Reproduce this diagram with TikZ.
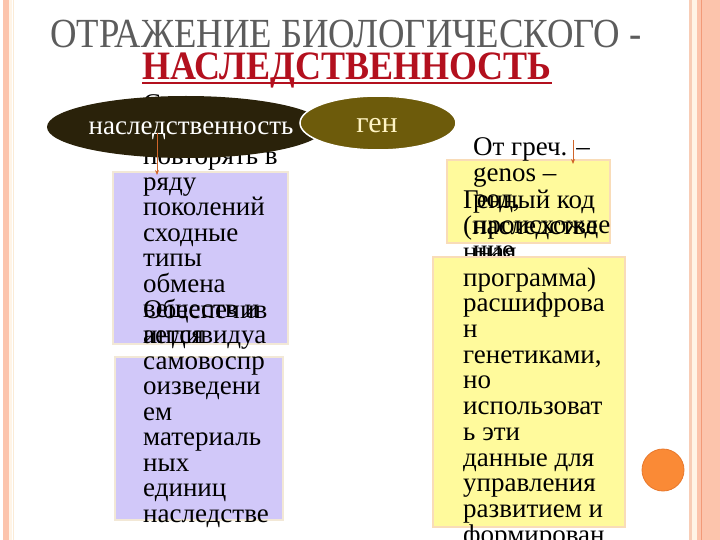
\documentclass[tikz,border=0pt]{standalone}
\usepackage{fontspec}
\setmainfont{Liberation Serif}
\usetikzlibrary{arrows.meta,shapes.geometric}
\definecolor{bordersalmon}{HTML}{FCC4AC}
\definecolor{borderlight}{HTML}{F8CDB6}
\definecolor{borderline}{HTML}{F29A78}
\definecolor{bordercream}{HTML}{FFF4E6}
\definecolor{borderthin}{HTML}{FBEBD6}
\definecolor{titlegray}{HTML}{5C5C5C}
\definecolor{titlered}{HTML}{B3101E}
\definecolor{darkell}{HTML}{2A220A}
\definecolor{oliveell}{HTML}{6D5B0B}
\definecolor{gencream}{HTML}{FFF4C4}
\definecolor{lav}{HTML}{D1C8F9}
\definecolor{lavedge}{HTML}{F2E8D6}
\definecolor{yel}{HTML}{FFFA9C}
\definecolor{yeledge}{HTML}{F9DCB8}
\definecolor{arrowc}{HTML}{D0652A}
\definecolor{dotc}{HTML}{FA8A36}
\definecolor{dotedge}{HTML}{E8782C}
\newcommand\stacklines[1]{\parbox[t]{240pt}{\raggedright\lineskiplimit=-100pt\relax\lineskip=0pt\relax #1}}
\begin{document}
\begin{tikzpicture}[x=1pt,y=-1pt,
  lefttext/.style={anchor=base west, inner sep=0pt, font=\fontsize{27}{25.5}\selectfont},
  righttext/.style={anchor=base west, inner sep=0pt, font=\fontsize{27}{25.7}\selectfont},
  lavpanel/.style={fill=lav, draw=lavedge, line width=1.5pt},
  yelpanel/.style={fill=yel, draw=yeledge, line width=1.5pt},
  pointer/.style={draw=arrowc, line width=0.9pt, -{Stealth[length=5pt,width=4pt]}}]
\useasboundingbox (0,0) rectangle (720,540);
\fill[white] (0,0) rectangle (720,540);
% borders
\fill[bordersalmon] (3,0) rectangle (8.5,540);
\fill[bordercream] (8.5,0) rectangle (12,540);
\draw[borderthin, line width=0.8pt] (13.5,0) -- (13.5,540);
\fill[borderlight] (689,0) rectangle (692,540);
\fill[bordercream] (692,0) rectangle (697,540);
\fill[bordersalmon] (697,0) rectangle (720,540);
\draw[borderline, line width=1.2pt] (701.5,0) -- (701.5,540);
% title
\node[anchor=base, inner sep=0pt, font=\fontsize{36}{40}\selectfont, text=titlegray] (t1) at (346,48) {\scalebox{1.02}[1.15]{ОТРАЖЕНИЕ БИОЛОГИЧЕСКОГО -}};
\node[anchor=base, inner sep=0pt, font=\fontsize{36}{40}\selectfont\bfseries, text=titlered] (t2) at (347,80) {\scalebox{1}[1.12]{НАСЛЕДСТВЕННОСТЬ}};
\draw[titlered, line width=2.5pt] ([yshift=-3pt]t2.base west) -- ([yshift=-3pt]t2.base east);
% left column
\fill[lavpanel] (113,172) rectangle (288,344);
\begin{scope}
\clip (138,85) rectangle (158,130);
\node[lefttext] (l0) at (143,113) {Свойство};
\end{scope}
\node[lefttext] (l1) at (143,139.5) {\stacklines{организмов\\повторять в\\ряду\\поколений\\сходные\\типы\\обмена\\веществ и\\индивидуа}};
\fill[lavpanel] (115,357) rectangle (283,520);
\node[lefttext] (l2) at (143,318) {\stacklines{Обеспечив\\ается\\самовоспр\\оизведени\\ем\\материаль\\ных\\единиц\\наследстве}};
% ellipses
\node[ellipse, fill=darkell, minimum width=278pt, minimum height=62pt, inner sep=0pt] (e1) at (186,127) {};
\node[anchor=base, inner sep=0pt, text=white, font=\fontsize{27}{30}\selectfont] (e1t) at (191,135) {наследственность};
\node[ellipse, fill=oliveell, draw=white, line width=1.5pt, minimum width=156pt, minimum height=54pt, inner sep=0pt] (e2) at (378,123) {};
\node[anchor=base, inner sep=0pt, text=gencream, font=\fontsize{30}{33}\selectfont] (e2t) at (377,133) {ген};
% right column
\fill[yelpanel] (447,160) rectangle (610,243);
\node[righttext] (ra) at (473,156) {\stacklines{От греч. –\\genos –\\род,\\происхожде\\ние}};
\node[righttext] (rb1) at (463,209) {\stacklines{Генный код\\(наследстве\\нная}};
\fill[yelpanel] (433,257) rectangle (625,527);
\node[righttext] (rb2) at (463,286.1) {\stacklines{программа)\\расшифрова\\н\\генетиками,\\но\\использоват\\ь эти\\данные для\\управления\\развитием и\\формирован}};
% pointers
\coordinate (p1s) at (157,133);
\coordinate (p1e) at (157,175);
\coordinate (p2s) at (573,140);
\coordinate (p2e) at (573,164);
\draw[pointer] (p1s) -- (p1e);
\draw[pointer] (p2s) -- (p2e);
% dot
\node[circle, fill=dotc, draw=dotedge, line width=0.8pt, minimum size=42pt, inner sep=0pt] (dot) at (663,470) {};
\end{tikzpicture}
\end{document}
